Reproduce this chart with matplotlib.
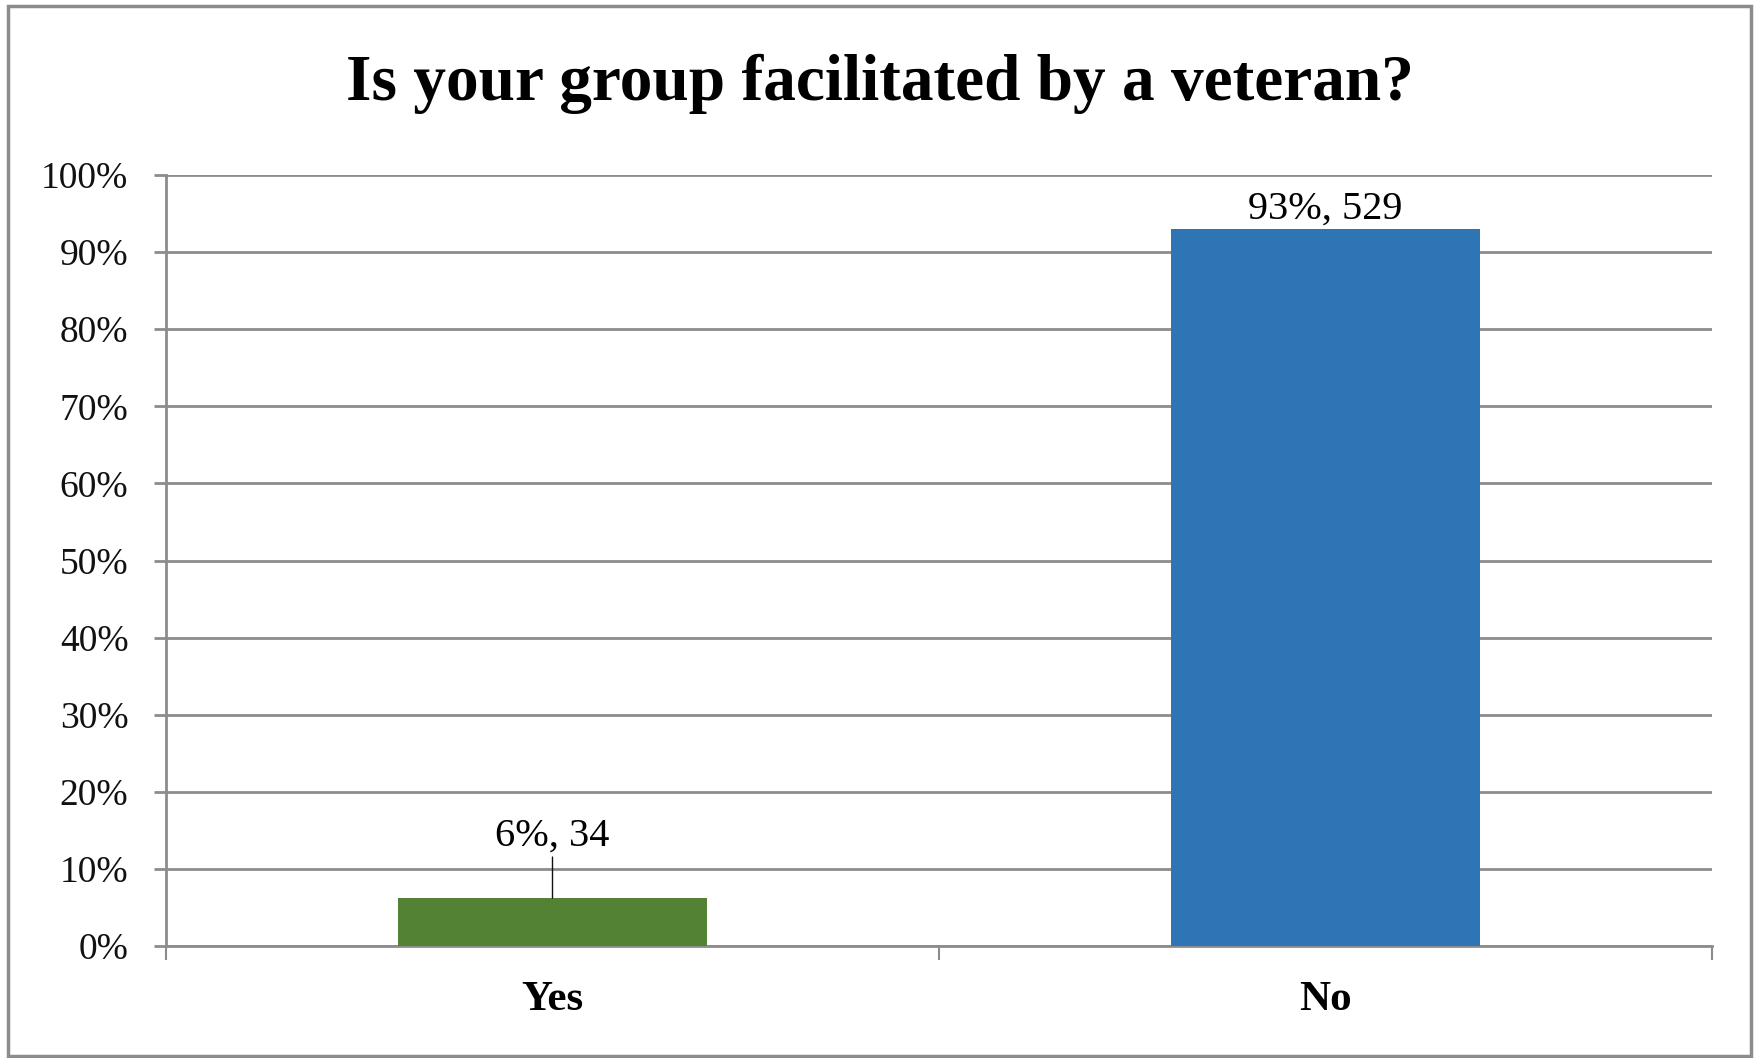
import matplotlib
matplotlib.use("Agg")
import matplotlib.pyplot as plt
from matplotlib.patches import Rectangle

categories = ["Yes", "No"]
shares = [0.062, 0.93]
labels = ["6%, 34", "93%, 529"]
colors = ["#548235", "#2E75B6"]
yticks = [0.0, 0.1, 0.2, 0.3, 0.4, 0.5, 0.6, 0.7, 0.8, 0.9, 1.0]

GRID = "#8c8c8c"
plt.rcParams["font.family"] = ["Liberation Serif", "DejaVu Serif"]

fig = plt.figure(figsize=(17.58, 10.58), dpi=100)
ax = fig.add_axes([166 / 1758, 1 - 946 / 1058, (1712 - 166) / 1758, (946 - 175) / 1058])

x = list(range(len(categories)))
ax.bar(x, shares, width=0.4, color=colors, zorder=3)

ax.set_xlim(-0.5, 1.5)
ax.set_ylim(0, 1)
ax.set_yticks(yticks)
ax.set_yticklabels([f"{int(round(v * 100))}%" for v in yticks], fontsize=27, color="#111111")
ax.yaxis.grid(True, color=GRID, lw=2.0, zorder=0)

# category labels centred, ticks at category boundaries
ax.set_xticks([-0.5, 0.5, 1.5])
ax.set_xticklabels([])
ax.tick_params(axis="x", length=10, width=1.5, color=GRID, direction="out")
ax.tick_params(axis="y", length=9, width=2.0, color=GRID, direction="out", pad=18)
for xi, c in zip(x, categories):
    ax.text(xi, -0.07, c, ha="center", va="center", fontsize=31, fontweight="bold",
            transform=ax.get_xaxis_transform())

for sp in ("top", "right"):
    ax.spines[sp].set_visible(False)
ax.spines["left"].set_color(GRID)
ax.spines["left"].set_linewidth(2.0)
ax.spines["bottom"].set_color(GRID)
ax.spines["bottom"].set_linewidth(2.0)

# data labels
ax.annotate(labels[0], xy=(x[0], shares[0]), xytext=(x[0], shares[0] + 0.057),
            ha="center", va="bottom", fontsize=29,
            arrowprops=dict(arrowstyle="-", color="#111111", lw=1.0, shrinkA=0, shrinkB=0))
ax.text(x[1], shares[1] + 0.002, labels[1], ha="center", va="bottom", fontsize=29)

fig.text(880 / 1758, 1 - 84 / 1058, "Is your group facilitated by a veteran?",
         ha="center", va="center", fontsize=47, fontweight="bold")

fig.patches.append(Rectangle((8 / 1758, 2 / 1058), 1743 / 1758, 1050 / 1058,
                             transform=fig.transFigure, fill=False, ec=GRID, lw=2.5))

fig.savefig("out.png", dpi=100)
